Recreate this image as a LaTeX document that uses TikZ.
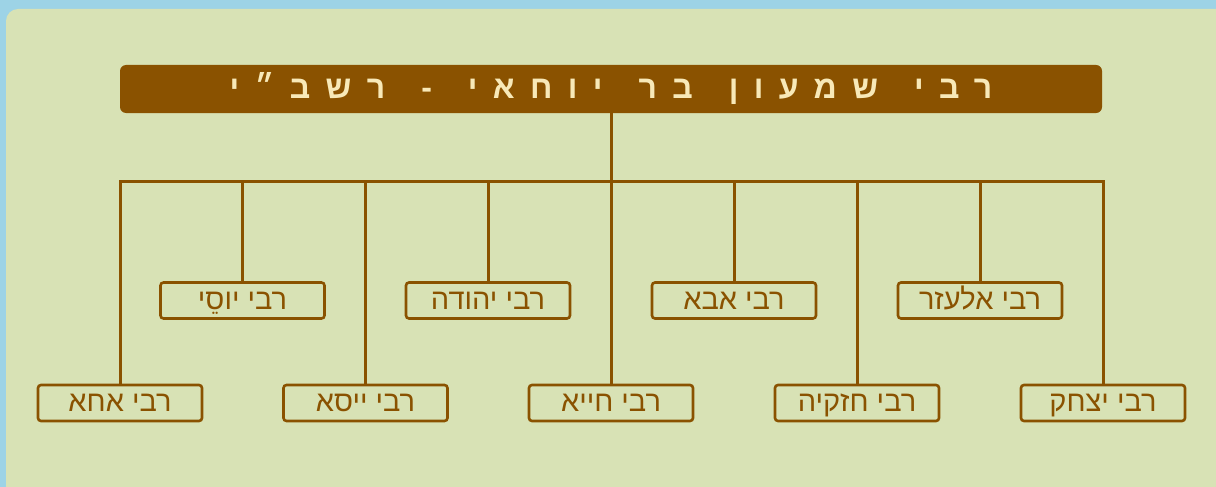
\documentclass[tikz,border=0pt]{standalone}
\usepackage{fontspec}
\TeXXeTstate=1
\newfontfamily\heb[Script=Hebrew]{Liberation Sans}
\newfontfamily\hebtitle[Script=Hebrew,LetterSpace=48]{Liberation Sans}
\newcommand\hebline[1]{\raisebox{0pt}[\fontcharht\font`ר][0pt]{\beginR #1\endR}}
\newcommand\wg{\hspace{36pt}}
\definecolor{skyc}{HTML}{9DD3E6}
\definecolor{panelc}{HTML}{D8E2B5}
\definecolor{brownc}{HTML}{8A5200}
\definecolor{creamc}{HTML}{F8E9B8}
\tikzset{
  rabbox/.style={draw=brownc, line width=2.6pt, rounded corners=3pt, minimum width=164pt, minimum height=36pt, inner sep=0pt, text=brownc, font=\heb\fontsize{29}{33}\selectfont},
  titlebox/.style={fill=brownc, rounded corners=6pt, minimum width=982pt, minimum height=48pt, inner sep=0pt, text=creamc, font=\hebtitle\bfseries\fontsize{32}{36}\selectfont},
  link/.style={draw=brownc, line width=3pt}
}
\begin{document}
\begin{tikzpicture}[x=1pt,y=-1pt]
\useasboundingbox (0,0) rectangle (1216,487);
\clip (0,0) rectangle (1216,487);
\fill[skyc] (0,0) rectangle (1216,487);
\fill[panelc, rounded corners=12pt] (6,9) rectangle (1228,500);
\node[titlebox] (title) at (611,89) {\hebline{רבי\wg שמעון\wg בר\wg יוחאי\wg -\wg רשב״י}};
\coordinate (bar) at (611,181);
% upper row
\node[rabbox] (yosi) at (242.5,300.5) {\hebline{רבי יוסֵי}};
\node[rabbox] (yehuda) at (488,300.5) {\hebline{רבי יהודה}};
\node[rabbox] (aba) at (734,300.5) {\hebline{רבי אבא}};
\node[rabbox] (elazar) at (980,300.5) {\hebline{רבי אלעזר}};
% lower row
\node[rabbox] (aha) at (120,403) {\hebline{רבי אחא}};
\node[rabbox] (yeisa) at (365.5,403) {\hebline{רבי ייסא}};
\node[rabbox] (hiya) at (611,403) {\hebline{רבי חייא}};
\node[rabbox] (hizkiya) at (857,403) {\hebline{רבי חזקיה}};
\node[rabbox] (yitzhak) at (1103,403) {\hebline{רבי יצחק}};
% connectors
\draw[link] (title.south) -- (bar);
\draw[link] (aha.north) -- (aha.north |- bar) -- (yitzhak.north |- bar) -- (yitzhak.north);
\foreach \n in {yosi,yehuda,aba,elazar,yeisa,hiya,hizkiya}
  \draw[link] (\n.north |- bar) -- (\n.north);
\end{tikzpicture}
\end{document}
